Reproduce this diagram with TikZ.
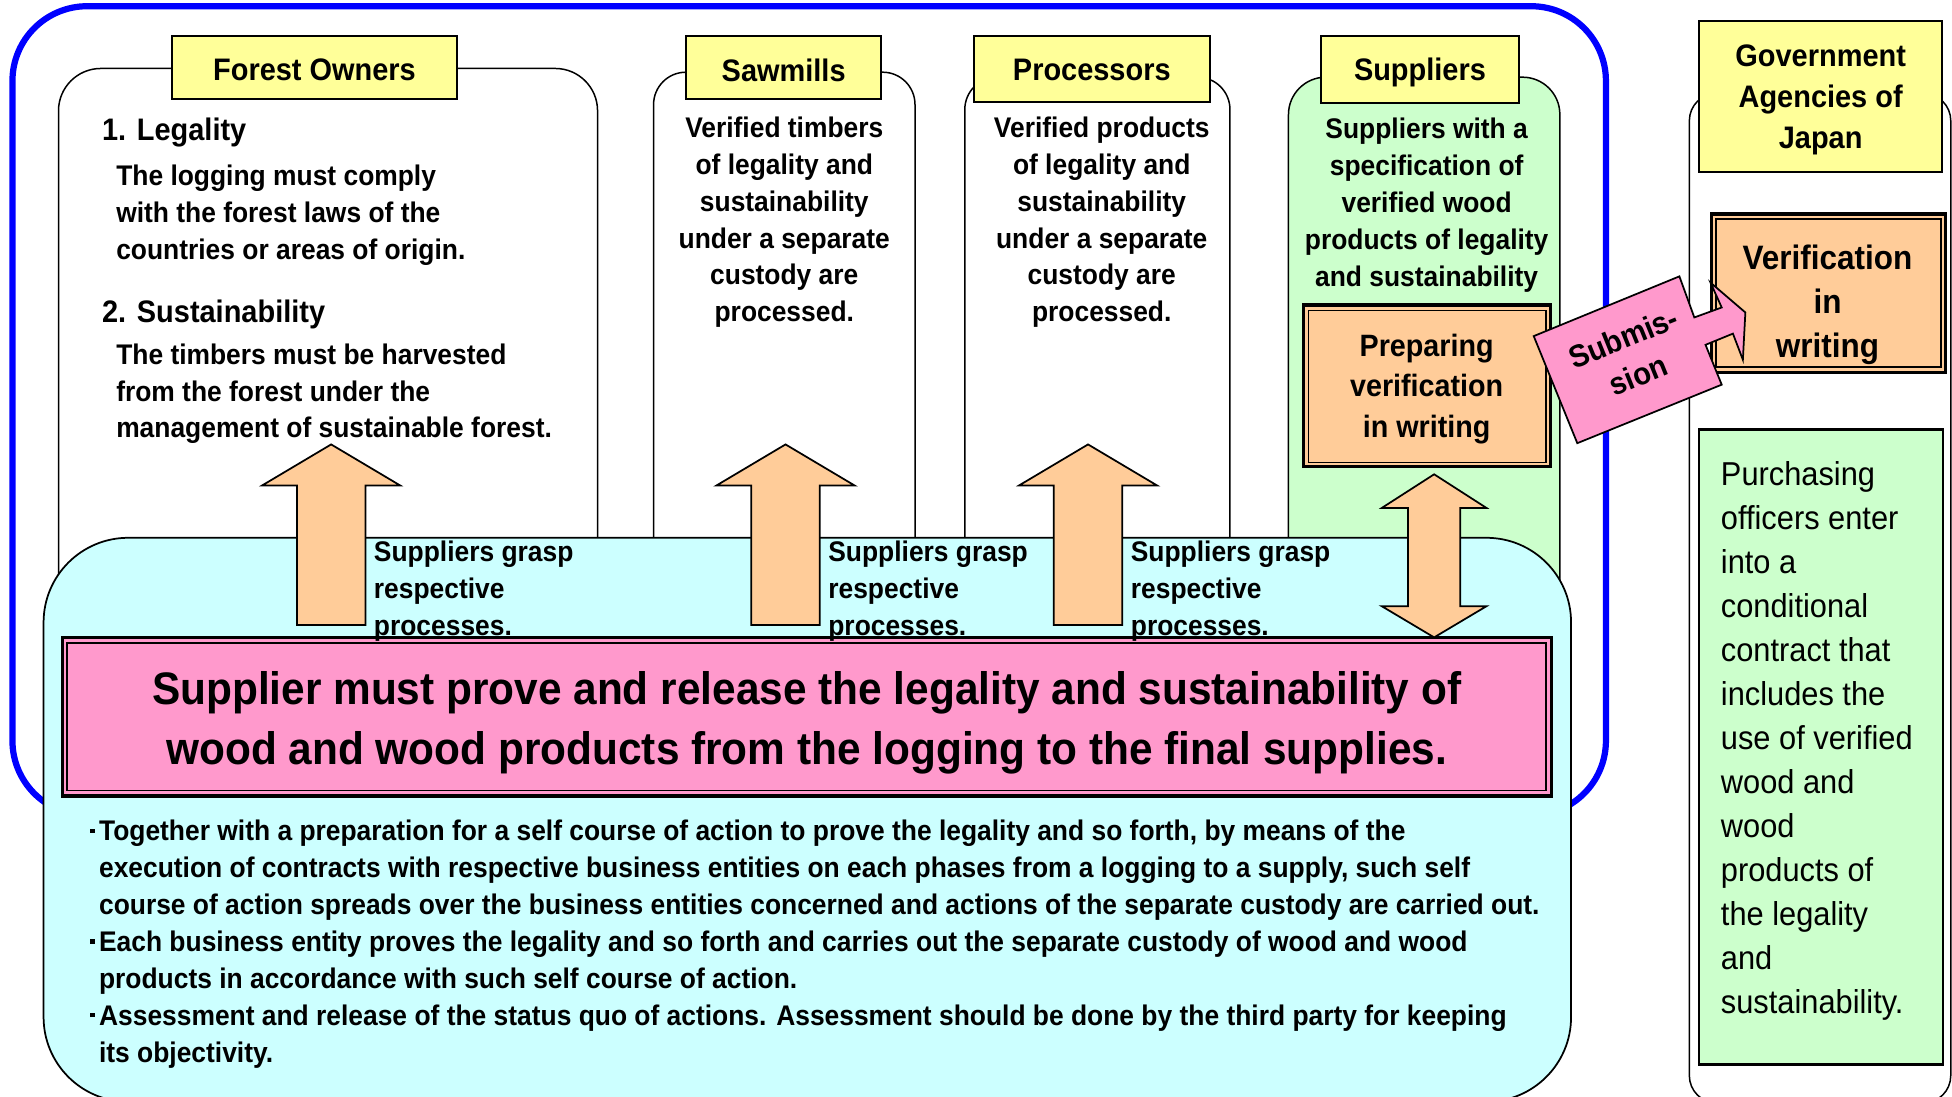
\documentclass[tikz,border=0pt]{standalone}
\usepackage{fontspec}
\setmainfont{Liberation Sans}[FakeStretch=0.93]
\usepackage{tikz}

\definecolor{hdryellow}{HTML}{FFFF99}
\definecolor{boxorange}{HTML}{FFCC99}
\definecolor{colgreen}{HTML}{CCFFCC}
\definecolor{basecyan}{HTML}{CCFFFF}
\definecolor{mainpink}{HTML}{FF99CC}

\newcommand{\bodysize}{\fontsize{11.4}{14.8}\selectfont}
\newcommand{\hdrsize}{\fontsize{12.5}{16.5}\selectfont}
\newcommand{\bul}{\makebox[3.6pt][l]{\rule[3.2pt]{1.8pt}{1.8pt}}}

\begin{document}
\begin{tikzpicture}[x=0.5pt, y=-0.5pt, font=\bfseries\bodysize,
    hdr/.style={draw, fill=hdryellow, line width=0.8pt, align=center, inner sep=0pt, text depth=0pt, font=\bfseries\hdrsize},
    colbox/.style={draw, fill=white, line width=0.6pt},
    txt/.style={align=center, inner sep=0pt, anchor=north},
    lbl/.style={align=left, inner sep=0pt, anchor=north west},
    arr/.style={draw, fill=boxorange, line width=0.7pt}]
            \useasboundingbox (0,0) rectangle (1568,881);
            \clip (0,0) rectangle (1568,881);

            % Frames
            \draw[blue, line width=2.5pt, rounded corners=30pt] (10,5) rectangle (1290,655);
            \draw[colbox, rounded corners=17pt] (47,55) rectangle (480,520);
            \draw[colbox, rounded corners=13pt] (525,58) rectangle (735,520);
            \draw[colbox, rounded corners=13pt] (775,62) rectangle (988,520);
            \draw[colbox, fill=colgreen, rounded corners=15pt] (1035,62) rectangle (1253,520);
            \draw[colbox, rounded corners=11pt] (1357,75) rectangle (1567,886);

            % Headers
            \node[hdr, text height=10.9pt, minimum width=114.1pt, minimum height=25.4pt] (fo) at (252.6,54.1) {Forest Owners};
            \node[hdr, text height=11.4pt, minimum width=78.5pt, minimum height=25.3pt] (sm) at (629.5,54.3) {Sawmills};
            \node[hdr, text height=9.4pt, minimum width=95pt, minimum height=26.5pt] (pr) at (877,55.5) {Processors};
            \node[hdr, text height=9pt, minimum width=79.2pt, minimum height=27.2pt] (su) at (1140.6,55.9) {Suppliers};
            \node[hdr, minimum width=97.5pt, minimum height=60.7pt] (gov) at (1462.5,77.3) {Government\\Agencies of\\Japan};

            % Column texts
            \node[anchor=west, inner sep=0pt, font=\bfseries\hdrsize] (leg) at (81.6,106.6) {1. Legality};
            \node[lbl] (legtxt) at (93,132) {The logging must comply\\with the forest laws of the\\countries or areas of origin.};
            \node[anchor=west, inner sep=0pt, font=\bfseries\hdrsize] (sus) at (81.6,252.6) {2. Sustainability};
            \node[lbl] (sustxt) at (93,275.6) {The timbers must be harvested\\from the forest under the\\management of sustainable forest.};
            \node[txt] (smtxt) at (630,93.6) {Verified timbers\\of legality and\\sustainability\\under a separate\\custody are\\processed.};
            \node[txt] (prtxt) at (885,93.6) {Verified products\\of legality and\\sustainability\\under a separate\\custody are\\processed.};
            \node[txt] (sutxt) at (1146,94.6) {Suppliers with a\\specification of\\verified wood\\products of legality\\and sustainability};

            % Base
            \draw[draw, fill=basecyan, line width=0.7pt, rounded corners=34pt] (35,432) rectangle (1262,885);
            \draw[fill=mainpink, line width=1.3pt] (50,512) rectangle (1246,639.5);
            \draw[line width=0.6pt] (54,516.5) rectangle (1242,635);
            \node[align=center, font=\bfseries\fontsize{18.3}{24}\selectfont] (claim) at (648,580.5)
                {Supplier must prove and release the legality and sustainability of\\wood and wood products from the logging to the final supplies.};
            \node[lbl] (notes) at (72,658.6) {\bul Together with a preparation for a self course of action to prove the legality and so forth, by means of the\\
                \hspace*{3.6pt}execution of contracts with respective business entities on each phases from a logging to a supply, such self\\
                \hspace*{3.6pt}course of action spreads over the business entities concerned and actions of the separate custody are carried out.\\
                \bul Each business entity proves the legality and so forth and carries out the separate custody of wood and wood\\
                \hspace*{3.6pt}products in accordance with such self course of action.\\
                \bul Assessment and release of the status quo of actions. Assessment should be done by the third party for keeping\\
                \hspace*{3.6pt}its objectivity.};

            % Arrows
            \foreach \ax/\nm in {266/fo, 631/sm, 874/pr} {
                \draw[arr] (\ax,357) -- (\ax+55.5,390) -- (\ax+27.5,390) -- (\ax+27.5,502)
                    -- (\ax-27.5,502) -- (\ax-27.5,390) -- (\ax-55.5,390) -- cycle;
                \node[lbl] (grasp\nm) at (\ax+34,434.4) {Suppliers grasp\\respective\\processes.};
            }
            \draw[arr] (1152,381) -- (1194,408) -- (1173,408) -- (1173,487) -- (1194,487) -- (1152,512)
                -- (1110,487) -- (1131,487) -- (1131,408) -- (1110,408) -- cycle;

            % Writing
            \draw[fill=boxorange, line width=1.3pt] (1047,245) rectangle (1245.6,375);
            \draw[line width=0.6pt] (1051,249.6) rectangle (1242,371.5);
            \node[align=center, font=\bfseries\fontsize{12.4}{16.3}\selectfont] (prep) at (1146,312.5) {Preparing\\verification\\in writing};
            \draw[fill=boxorange, line width=1.3pt] (1374.5,172) rectangle (1563,299);
            \draw[line width=0.6pt] (1378.5,176) rectangle (1559,295);
            \node[align=center, font=\bfseries\fontsize{13.6}{17.6}\selectfont] (verif) at (1468,245) {Verification\\in\\writing};
            \draw[fill=colgreen, line width=0.9pt] (1365,345) rectangle (1561,855);
            \node[lbl, font=\fontsize{13.3}{17.7}\selectfont] (buy) at (1382,370) {Purchasing\\officers enter\\into a\\conditional\\contract that\\includes the\\use of verified\\wood and\\wood\\products of\\the legality\\and\\sustainability.};

            % Submission
            \draw[fill=mainpink, line width=0.7pt] (1232,270) -- (1349,222) -- (1361,255) -- (1383,247) -- (1374,227)
                -- (1402,251) -- (1400,289) -- (1392,268) -- (1370,277) -- (1383,309) -- (1267,356) -- cycle;
            \node[rotate=22, align=center, font=\bfseries\fontsize{12.6}{16}\selectfont] (sub) at (1310,286) {Submis-\\sion};
        \end{tikzpicture}
\end{document}
